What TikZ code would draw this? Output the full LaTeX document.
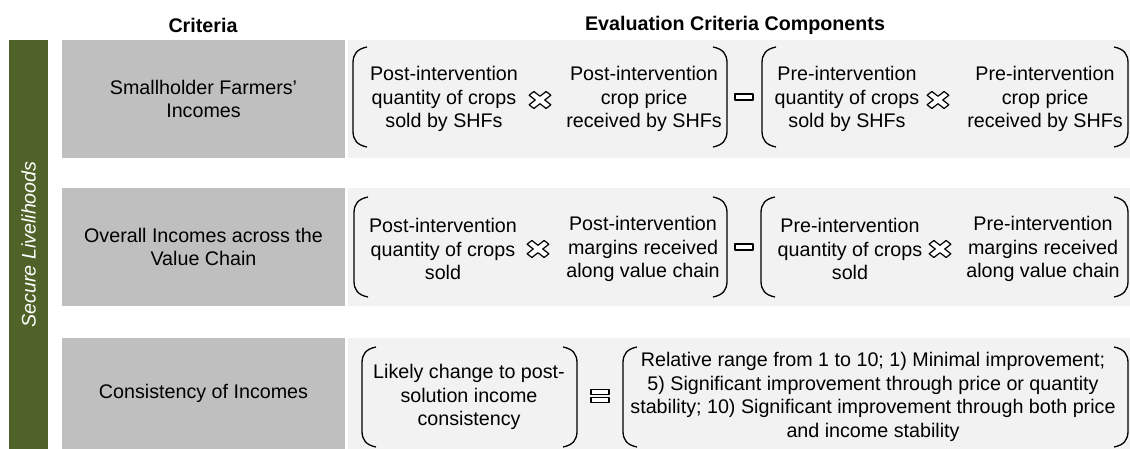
\documentclass[tikz,border=0pt]{standalone}
\usepackage{fontspec}
\setmainfont{Liberation Sans}
\usetikzlibrary{positioning}

\definecolor{leafgreen}{RGB}{79,98,40}
\definecolor{critgray}{RGB}{191,191,191}
\definecolor{compgray}{RGB}{242,242,242}

% bracket halves, x / top / bottom in px
\newcommand{\lcurve}[3]{\draw[paren] (#1+14,#2) .. controls (#1+4,#2+2) and (#1,#2+7) .. (#1,#2+16) -- (#1,#3-16) .. controls (#1,#3-7) and (#1+4,#3-2) .. (#1+14,#3);}
\newcommand{\rcurve}[3]{\draw[paren] (#1-14,#2) .. controls (#1-4,#2+2) and (#1,#2+7) .. (#1,#2+16) -- (#1,#3-16) .. controls (#1,#3-7) and (#1-4,#3-2) .. (#1-14,#3);}

\begin{document}
\begin{tikzpicture}[x=0.5pt,y=-0.5pt,
  txt/.style={align=center,inner sep=0pt,font=\fontsize{9.85}{11.75}\selectfont},
  head/.style={txt,font=\fontsize{9.85}{11.75}\selectfont\bfseries},
  paren/.style={line width=0.65pt,black},
  opsym/.style={draw=black,fill=white,line width=0.6pt,line join=round},
  pics/timesop/.style={code={
    \draw[opsym,xscale=12,yscale=9.4,rotate=45] (.28,.28) -- (.28,1) -- (-.28,1) -- (-.28,.28) -- (-1,.28) -- (-1,-.28)
      -- (-.28,-.28) -- (-.28,-1) -- (.28,-1) -- (.28,-.28) -- (1,-.28) -- (1,.28) -- cycle;}},
  pics/minusop/.style={code={\draw[opsym] (-9,-3) rectangle (9,3);}},
  pics/equalop/.style={code={\draw[opsym] (-9,-6.5) rectangle (9,-1.5); \draw[opsym] (-9,1.5) rectangle (9,6.5);}}]

  \useasboundingbox (0,0) rectangle (1130,449);

  \node[head] (h1) at (203,25) {Criteria};
  \node[head] (h2) at (735,25) {Evaluation Criteria Components};

  \fill[leafgreen] (9,40) rectangle (48,449);
  \node[txt,rotate=90,text=white,font=\fontsize{9.85}{11.75}\selectfont\itshape] (pillar) at (28.5,244.5) {Secure Livelihoods};

  \foreach \i/\ya/\yb/\txt in {1/40/158/{Smallholder Farmers’\\Incomes},
                              2/188/306/{Overall Incomes across the\\Value Chain},
                              3/338/449/{Consistency of Incomes}}
  {\fill[critgray] (62,\ya) rectangle (345,\yb);
   \fill[compgray] (348,\ya) rectangle (1130,\yb);
   \node[txt] (crit\i) at (203.5,{(\ya+\yb)/2}) {\txt};}

  % row 1
  \node[txt] (postq1) at (444,99) {Post-intervention\\quantity of crops\\sold by SHFs};
  \pic at (540,100) {timesop};
  \node[txt] (postp1) at (644,99) {Post-intervention\\crop price\\received by SHFs};
  \pic at (744,97) {minusop};
  \node[txt] (preq1) at (847,99) {Pre-intervention\\quantity of crops\\sold by SHFs};
  \pic at (938,100) {timesop};
  \node[txt] (prep1) at (1045,99) {Pre-intervention\\crop price\\received by SHFs};
  \lcurve{353}{47}{147} \rcurve{727}{47}{147}
  \lcurve{762}{47}{147} \rcurve{1128}{47}{147}

  % row 2
  \node[txt] (postq2) at (443,249) {Post-intervention\\quantity of crops\\sold};
  \pic at (538,249) {timesop};
  \node[txt] (postm2) at (643,249) {Post-intervention\\margins received\\along value chain};
  \pic at (744,247) {minusop};
  \node[txt] (preq2) at (850,249) {Pre-intervention\\quantity of crops\\sold};
  \pic at (940,249) {timesop};
  \node[txt] (prem2) at (1043,249) {Pre-intervention\\margins received\\along value chain};
  \lcurve{354}{197}{297} \rcurve{727}{197}{297}
  \lcurve{761}{197}{297} \rcurve{1128}{197}{297}

  % row 3
  \node[txt] (likely3) at (469,397) {Likely change to post-\\solution income\\consistency};
  \pic at (600,396) {equalop};
  \node[txt] (range3) at (873,397) {Relative range from 1 to 10; 1) Minimal improvement;\\5) Significant improvement through price or quantity\\stability; 10) Significant improvement through both price\\and income stability};
  \lcurve{362}{347}{447} \rcurve{577}{347}{447}
  \lcurve{623}{347}{447} \rcurve{1128}{347}{447}

\end{tikzpicture}
\end{document}
